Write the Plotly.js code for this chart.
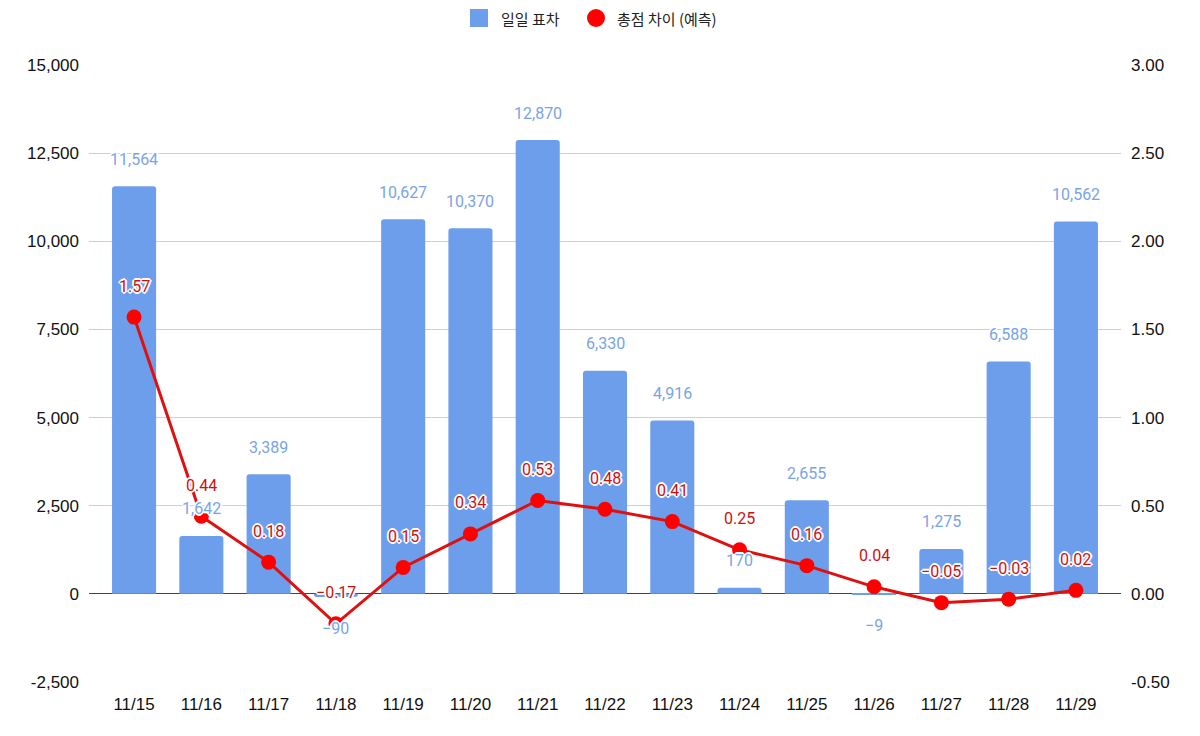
<!DOCTYPE html>
<html>
<head>
<meta charset="utf-8">
<script src="https://cdn.plot.ly/plotly-3.0.1.min.js"></script>
<style>html,body{margin:0;padding:0;background:#fff;}#chart{width:1200px;height:736px;}</style>
</head>
<body>
<div id="chart"></div>
<script>
const dates = ["11/15","11/16","11/17","11/18","11/19","11/20","11/21","11/22","11/23","11/24","11/25","11/26","11/27","11/28","11/29"];
const dailyDiff = [11564, 1642, 3389, -90, 10627, 10370, 12870, 6330, 4916, 170, 2655, -9, 1275, 6588, 10562];
const totalDiff = [1.57, 0.44, 0.18, -0.17, 0.15, 0.34, 0.53, 0.48, 0.41, 0.25, 0.16, 0.04, -0.05, -0.03, 0.02];
const leftTicks = [-2500, 0, 2500, 5000, 7500, 10000, 12500, 15000];
const leftTickText = ["-2,500", "0", "2,500", "5,000", "7,500", "10,000", "12,500", "15,000"];
const rightTicks = [-0.5, 0, 0.5, 1, 1.5, 2, 2.5, 3];
const rightTickText = ["-0.50", "0.00", "0.50", "1.00", "1.50", "2.00", "2.50", "3.00"];
const barName = "일일 표차";
const lineName = "총점 차이 (예측)";

const fmtInt = v => (v < 0 ? "\u2212" : "") + Math.abs(v).toLocaleString("en-US");
const fmtDec = v => (v < 0 ? "\u2212" : "") + Math.abs(v).toFixed(2);

const BLUE = "#6d9eeb";
const RED = "#e01010";
const W = 1200, H = 736;
const M = {l: 89, r: 79, t: 65, b: 54};
const tickFont = {family: "'Liberation Sans', Arial, sans-serif", size: 17, color: "#111"};
const halo = "1px 1px 0 #fff, -1px -1px 0 #fff, 1px -1px 0 #fff, -1px 1px 0 #fff, 2px 0 0 #fff, -2px 0 0 #fff, 0 2px 0 #fff, 0 -2px 0 #fff";

const traces = [
  {type: "bar", x: dates, y: dailyDiff, name: barName, marker: {color: BLUE, cornerradius: 3}, yaxis: "y", hoverinfo: "x+y"},
  {type: "scatter", mode: "lines+markers", x: dates, y: totalDiff, yaxis: "y2", name: lineName,
    line: {color: RED, width: 3}, marker: {color: "#ff0000", size: 15}}
];

const annotations = [];
dates.forEach((d, i) => {
  const v = dailyDiff[i];
  annotations.push({
    x: d, y: v, xref: "x", yref: "y", text: fmtInt(v), showarrow: false,
    yanchor: "middle", yshift: v < 0 ? -31 : 27,
    font: {family: "Roboto, Arial, sans-serif", size: 16, color: "#78a4e6", shadow: halo}
  });
});
dates.forEach((d, i) => {
  const v = totalDiff[i];
  annotations.push({
    x: d, y: v, xref: "x", yref: "y2", text: fmtDec(v), showarrow: false,
    yanchor: "middle", yshift: 31,
    font: {family: "Roboto, Arial, sans-serif", size: 16, color: "#cc1111", shadow: halo}
  });
});

// custom legend, positioned in pixels of the page converted to paper coordinates
const plotW = W - M.l - M.r, plotH = H - M.t - M.b;
const px = x => (x - M.l) / plotW;
const py = y => (H - M.b - y) / plotH;
const legFont = {family: "'Noto Sans CJK KR', 'Noto Sans', sans-serif", size: 15, color: "#222"};
const legendShapes = [
  {type: "rect", xref: "paper", yref: "paper", x0: px(470), x1: px(488), y0: py(27), y1: py(9), line: {width: 0}, fillcolor: BLUE},
  {type: "circle", xref: "paper", yref: "paper", x0: px(587), x1: px(605), y0: py(27), y1: py(9), line: {width: 0}, fillcolor: "#ff0000"}
];
const legendAnn = [
  {xref: "paper", yref: "paper", x: px(499), y: py(18), xanchor: "left", yanchor: "middle", text: barName, showarrow: false, font: legFont},
  {xref: "paper", yref: "paper", x: px(615), y: py(18), xanchor: "left", yanchor: "middle", text: lineName, showarrow: false, font: legFont}
];

const layout = {
  width: W, height: H,
  margin: M,
  paper_bgcolor: "#fff", plot_bgcolor: "#fff",
  bargap: 0.345,
  showlegend: false,
  xaxis: {type: "category", range: [-0.67, 14.67], showgrid: false, zeroline: false, showline: false,
    tickfont: tickFont, ticks: "", ticklabelstandoff: 10, fixedrange: true},
  yaxis: {range: [-2500, 15000], tickvals: leftTicks, ticktext: leftTickText, showgrid: true, gridcolor: "#cfcfcf", gridwidth: 1,
    zeroline: true, zerolinecolor: "#444", zerolinewidth: 1.3, showline: false, tickfont: tickFont, ticks: "", ticklabelstandoff: 9},
  yaxis2: {range: [-0.5, 3], tickvals: rightTicks, ticktext: rightTickText, overlaying: "y", side: "right", showgrid: false,
    zeroline: false, showline: false, tickfont: tickFont, ticks: "", ticklabelstandoff: 9},
  shapes: legendShapes,
  annotations: annotations.concat(legendAnn)
};

Plotly.newPlot("chart", traces, layout, {displayModeBar: false, responsive: false});
</script>
</body>
</html>
